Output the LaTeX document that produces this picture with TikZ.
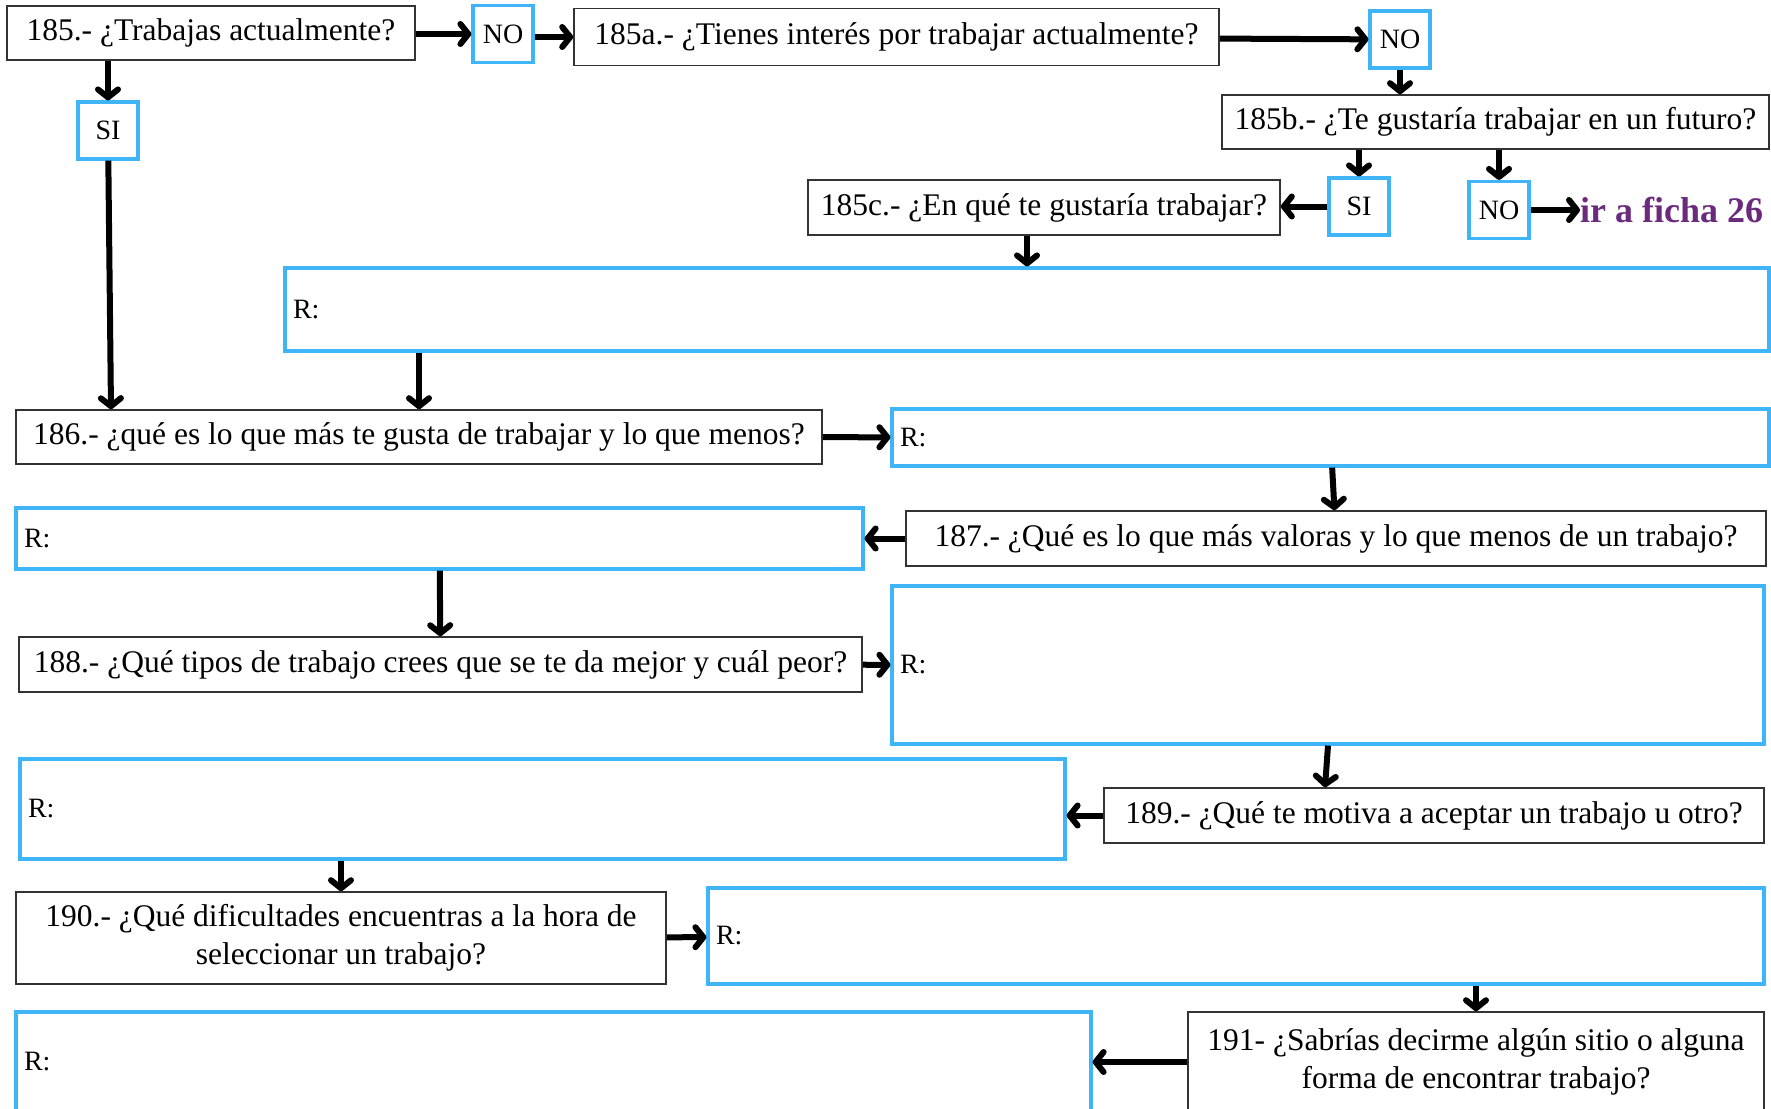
\documentclass[tikz,border=0pt]{standalone}
\usepackage{fontspec}
\setmainfont{Liberation Serif}
\usepackage{xcolor}
\usepackage{tikz}
\usetikzlibrary{arrows.meta}
\usetikzlibrary{positioning}

\definecolor{azulR}{HTML}{3FB4F6}
\definecolor{bordeP}{HTML}{333333}
\definecolor{morado}{HTML}{6B2A7B}

\begin{document}
\begin{tikzpicture}[
      x=1pt, y=-1pt,
      preg/.style={draw=bordeP, line width=1.6pt, fill=white, inner sep=0pt, align=center,
        font=\fontsize{31.5}{38}\selectfont},
      resp/.style={draw=azulR, line width=3.2pt, inner xsep=8pt, inner ysep=0pt, align=left,
        font=\fontsize{28}{30}\selectfont},
      sino/.style={draw=azulR, line width=3.2pt, minimum width=60pt, minimum height=57pt,
        inner sep=0pt, font=\fontsize{28}{30}\selectfont},
      flecha/.style={-{Straight Barb[round, length=8pt, width=20pt]}, line width=6pt}
    ]
    \useasboundingbox (0,0) rectangle (1771,1108);
    \clip (0,0) rectangle (1771,1108);

    % Preguntas 185
    \node[preg, minimum width=408pt, minimum height=54pt] (q185) at (211,33) {185.- ¿Trabajas actualmente?};
    \node[sino] (no1) at (503,34) {NO};
    \node[preg, minimum width=645pt, minimum height=57pt] (q185a) at (896.5,37) {185a.- ¿Tienes interés por trabajar actualmente?};
    \node[sino] (no2) at (1400,39.5) {NO};
    \node[preg, minimum width=547pt, minimum height=54pt] (q185b) at (1495.5,122) {185b.- ¿Te gustaría trabajar en un futuro?};
    \node[sino] (sib) at (1359,206.5) {SI};
    \node[sino] (nob) at (1499,210) {NO};
    \node[anchor=west, inner sep=0pt, text=morado, font=\fontsize{36}{40}\selectfont\bfseries] (ficha) at (1580,210) {ir a ficha 26};
    \node[preg, minimum width=472pt, minimum height=55pt] (q185c) at (1044,207.5) {185c.- ¿En qué te gustaría trabajar?};
    \node[sino] (sia) at (108,130.5) {SI};
    \node[resp, text width=1468pt, minimum height=83pt] (r1) at (1027,309.5) {R:};

    % Preguntas 186 - 191
    \node[preg, minimum width=806pt, minimum height=54pt] (q186) at (419,437) {186.- ¿qué es lo que más te gusta de trabajar y lo que menos?};
    \node[resp, text width=861pt, minimum height=57pt] (r2) at (1330.5,437.5) {R:};
    \node[preg, minimum width=860pt, minimum height=55pt] (q187) at (1336,538.5) {187.- ¿Qué es lo que más valoras y lo que menos de un trabajo?};
    \node[resp, text width=831pt, minimum height=61pt] (r3) at (439.5,538.5) {R:};
    \node[preg, minimum width=843pt, minimum height=55pt] (q188) at (440.5,664.5) {188.- ¿Qué tipos de trabajo crees que se te da mejor y cuál peor?};
    \node[resp, text width=856pt, minimum height=158pt] (r4) at (1328,665) {R:};
    \node[preg, minimum width=660pt, minimum height=55pt] (q189) at (1434,815.5) {189.- ¿Qué te motiva a aceptar un trabajo u otro?};
    \node[resp, text width=1029pt, minimum height=100pt] (r5) at (542.5,809) {R:};
    \node[preg, minimum width=650pt, minimum height=92pt] (q190) at (341,938) {190.- ¿Qué dificultades encuentras a la hora de\\seleccionar un trabajo?};
    \node[resp, text width=1040pt, minimum height=96pt] (r6) at (1236,936) {R:};
    \node[preg, minimum width=576pt, minimum height=100pt] (q191) at (1476,1062) {191- ¿Sabrías decirme algún sitio o alguna\\forma de encontrar trabajo?};
    \node[resp, text width=1059pt, minimum height=100pt] (r7) at (553.5,1062) {R:};

    % Flechas
    \draw[flecha] (q185.east |- no1) -- (no1);
    \draw[flecha] (no1.east |- q185a) -- (q185a);
    \draw[flecha] (q185a) -- (no2);
    \draw[flecha] (no2) -- (no2 |- q185b.north);
    \draw[flecha] (q185.south -| sia) -- (sia);
    \draw[flecha] (sia) -- ([xshift=3pt]sia |- q186.north);
    \draw[flecha] (q185b.south -| sib) -- (sib);
    \draw[flecha] (q185b.south -| nob) -- (nob);
    \draw[flecha] (sib) -- (sib -| q185c.east);
    \draw[flecha] (nob) -- (ficha);
    \draw[flecha] (q185c.south -| r1) -- (r1);
    \draw[flecha] (r1.south -| q186) -- (q186);
    \draw[flecha] (q186) -- (r2);
    \draw[flecha] (r2) -- (q187);
    \draw[flecha] (q187) -- (r3);
    \draw[flecha] (r3) -- (q188);
    \draw[flecha] (q188) -- (r4);
    \draw[flecha] (r4.south) -- ([xshift=-3pt]r4.south |- q189.north);
    \draw[flecha] (q189) -- (q189 -| r5.east);
    \draw[flecha] (r5.south -| q190) -- (q190);
    \draw[flecha] (q190) -- (r6);
    \draw[flecha] (r6.south -| q191) -- (q191);
    \draw[flecha] (q191) -- (r7);
  \end{tikzpicture}
\end{document}
